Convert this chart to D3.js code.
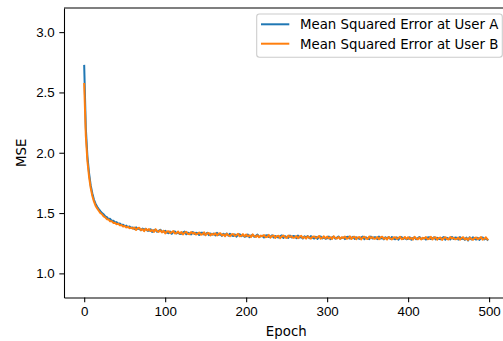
<!DOCTYPE html>
<html>
<head>
<meta charset="utf-8">
<script src="https://cdn.jsdelivr.net/npm/d3@7"></script>
<style>
    body { margin: 0; background: #fff; }
    svg { display: block; font-family: "DejaVu Sans", sans-serif; }
    .axis text { font-size: 13.33px; fill: #000; }
    .axis path, .axis line { stroke: #000; stroke-width: 1.07; }
</style>
</head>
<body>
<svg id="chart" width="503" height="341"></svg>
<script>
// values, one every 2 epochs (0, 2, ... 498)
var seriesNames = ["Mean Squared Error at User A", "Mean Squared Error at User B"];
var seriesColors = ["#1f77b4", "#ff7f0e"];
var xTicks = [0, 100, 200, 300, 400, 500];
var yTicks = [1.0, 1.5, 2.0, 2.5, 3.0];

var mseA = [
    2.720, 2.205, 1.968, 1.832, 1.731, 1.664, 1.612, 1.578, 1.552, 1.533,
    1.516, 1.500, 1.490, 1.472, 1.466, 1.450, 1.452, 1.436, 1.437, 1.422,
    1.425, 1.410, 1.414, 1.401, 1.403, 1.392, 1.396, 1.383, 1.389, 1.377,
    1.381, 1.367, 1.382, 1.367, 1.371, 1.358, 1.371, 1.362, 1.370, 1.354,
    1.353, 1.366, 1.344, 1.358, 1.361, 1.345, 1.353, 1.362, 1.344, 1.347,
    1.353, 1.339, 1.333, 1.347, 1.328, 1.343, 1.348, 1.331, 1.339, 1.327,
    1.328, 1.339, 1.346, 1.324, 1.338, 1.331, 1.323, 1.343, 1.327, 1.337,
    1.333, 1.318, 1.336, 1.337, 1.322, 1.326, 1.337, 1.317, 1.331, 1.321,
    1.331, 1.315, 1.336, 1.319, 1.324, 1.311, 1.329, 1.317, 1.330, 1.312,
    1.329, 1.315, 1.309, 1.323, 1.305, 1.320, 1.325, 1.308, 1.317, 1.304,
    1.308, 1.322, 1.300, 1.315, 1.318, 1.303, 1.311, 1.321, 1.303, 1.307,
    1.312, 1.297, 1.315, 1.316, 1.301, 1.305, 1.316, 1.297, 1.310, 1.301,
    1.297, 1.308, 1.315, 1.294, 1.308, 1.301, 1.294, 1.314, 1.298, 1.309,
    1.308, 1.292, 1.313, 1.297, 1.302, 1.289, 1.308, 1.297, 1.309, 1.292,
    1.309, 1.296, 1.289, 1.304, 1.286, 1.302, 1.306, 1.290, 1.299, 1.287,
    1.291, 1.305, 1.284, 1.299, 1.303, 1.288, 1.296, 1.306, 1.289, 1.293,
    1.298, 1.284, 1.302, 1.304, 1.289, 1.294, 1.304, 1.285, 1.299, 1.290,
    1.286, 1.298, 1.305, 1.284, 1.299, 1.291, 1.284, 1.305, 1.289, 1.300,
    1.299, 1.284, 1.305, 1.289, 1.295, 1.282, 1.300, 1.289, 1.302, 1.285,
    1.302, 1.289, 1.283, 1.298, 1.280, 1.296, 1.301, 1.285, 1.294, 1.282,
    1.286, 1.300, 1.279, 1.294, 1.298, 1.283, 1.292, 1.302, 1.285, 1.289,
    1.294, 1.280, 1.298, 1.300, 1.285, 1.290, 1.300, 1.281, 1.295, 1.286,
    1.282, 1.294, 1.301, 1.280, 1.295, 1.288, 1.281, 1.302, 1.286, 1.297,
    1.295, 1.280, 1.301, 1.285, 1.291, 1.278, 1.297, 1.272, 1.299, 1.282,
    1.299, 1.286, 1.280, 1.295, 1.277, 1.293, 1.298, 1.282, 1.291, 1.279
];

var mseB = [
    2.570, 2.140, 1.928, 1.801, 1.709, 1.643, 1.596, 1.561, 1.539, 1.519,
    1.500, 1.490, 1.472, 1.465, 1.449, 1.447, 1.432, 1.433, 1.418, 1.420,
    1.408, 1.412, 1.398, 1.401, 1.389, 1.393, 1.381, 1.386, 1.375, 1.379,
    1.370, 1.380, 1.360, 1.374, 1.378, 1.358, 1.366, 1.350, 1.370, 1.356,
    1.367, 1.351, 1.359, 1.344, 1.366, 1.351, 1.344, 1.357, 1.340, 1.353,
    1.332, 1.347, 1.350, 1.335, 1.341, 1.351, 1.330, 1.335, 1.347, 1.330,
    1.343, 1.323, 1.337, 1.344, 1.328, 1.324, 1.343, 1.330, 1.337, 1.322,
    1.328, 1.339, 1.321, 1.324, 1.340, 1.317, 1.332, 1.334, 1.315, 1.328,
    1.321, 1.332, 1.314, 1.328, 1.333, 1.315, 1.323, 1.308, 1.329, 1.316,
    1.308, 1.323, 1.326, 1.311, 1.318, 1.328, 1.307, 1.312, 1.325, 1.307,
    1.322, 1.307, 1.315, 1.301, 1.323, 1.309, 1.302, 1.316, 1.299, 1.313,
    1.307, 1.318, 1.300, 1.303, 1.319, 1.296, 1.311, 1.314, 1.294, 1.308,
    1.312, 1.292, 1.306, 1.314, 1.298, 1.294, 1.314, 1.301, 1.308, 1.294,
    1.298, 1.309, 1.291, 1.306, 1.311, 1.293, 1.302, 1.288, 1.308, 1.296,
    1.288, 1.304, 1.306, 1.292, 1.299, 1.310, 1.288, 1.294, 1.307, 1.290,
    1.305, 1.290, 1.299, 1.285, 1.308, 1.294, 1.288, 1.302, 1.286, 1.300,
    1.293, 1.305, 1.287, 1.291, 1.307, 1.285, 1.300, 1.303, 1.284, 1.298,
    1.301, 1.282, 1.296, 1.304, 1.289, 1.285, 1.305, 1.293, 1.300, 1.286,
    1.289, 1.301, 1.283, 1.298, 1.304, 1.286, 1.295, 1.281, 1.302, 1.290,
    1.281, 1.297, 1.300, 1.286, 1.293, 1.304, 1.283, 1.289, 1.302, 1.285,
    1.300, 1.285, 1.294, 1.280, 1.303, 1.289, 1.283, 1.297, 1.281, 1.295,
    1.289, 1.301, 1.283, 1.287, 1.303, 1.281, 1.296, 1.299, 1.280, 1.294,
    1.297, 1.278, 1.292, 1.300, 1.285, 1.281, 1.301, 1.289, 1.296, 1.282,
    1.285, 1.297, 1.279, 1.294, 1.300, 1.282, 1.291, 1.277, 1.298, 1.286,
    1.278, 1.294, 1.297, 1.283, 1.290, 1.301, 1.280, 1.286, 1.299, 1.282
];

var series = [mseA, mseB];

var svg = d3.select("#chart");

// axes box, right edge runs past the window like the picture
var plotLeft = 64, plotRight = 508.5, plotTop = 8, plotBottom = 297.5;

var x = d3.scaleLinear().domain([-24.95, 523.95]).range([plotLeft, plotRight]);
var y = d3.scaleLinear().domain([0.8, 3.2]).range([plotBottom, plotTop]);

var line = d3.line()
    .x(function(d, i) { return x(i * 2); })
    .y(function(d) { return y(d); });

svg.append("clipPath").attr("id", "plotclip")
    .append("rect")
    .attr("x", plotLeft).attr("y", plotTop)
    .attr("width", plotRight - plotLeft).attr("height", plotBottom - plotTop);

svg.append("g")
    .attr("clip-path", "url(#plotclip)")
    .selectAll("path")
    .data(series)
    .enter().append("path")
    .attr("d", line)
    .attr("fill", "none")
    .attr("stroke", function(d, i) { return seriesColors[i]; })
    .attr("stroke-width", 2)
    .attr("stroke-linejoin", "round")
    .attr("stroke-linecap", "square");

var xAxis = svg.append("g")
    .attr("class", "axis")
    .attr("transform", "translate(0," + plotBottom + ")")
    .call(d3.axisBottom(x).tickValues(xTicks).tickFormat(d3.format("d"))
        .tickSize(4.67).tickSizeOuter(0).tickPadding(4.67));

var yAxis = svg.append("g")
    .attr("class", "axis")
    .attr("transform", "translate(" + plotLeft + ",0)")
    .call(d3.axisLeft(y).tickValues(yTicks).tickFormat(d3.format(".1f"))
        .tickSize(4.67).tickSizeOuter(0).tickPadding(4.67));

// top and right spines
svg.append("line")
    .attr("x1", plotLeft).attr("x2", plotRight)
    .attr("y1", plotTop).attr("y2", plotTop)
    .attr("stroke", "#000").attr("stroke-width", 1.07);
svg.append("line")
    .attr("x1", plotRight).attr("x2", plotRight)
    .attr("y1", plotTop).attr("y2", plotBottom)
    .attr("stroke", "#000").attr("stroke-width", 1.07);

svg.append("text")
    .attr("x", (plotLeft + plotRight) / 2)
    .attr("y", 335.5)
    .attr("text-anchor", "middle")
    .attr("font-size", "13.33px")
    .text("Epoch");

svg.append("text")
    .attr("transform", "translate(26," + ((plotTop + plotBottom) / 2) + ") rotate(-90)")
    .attr("text-anchor", "middle")
    .attr("font-size", "13.33px")
    .text("MSE");

// legend
var legend = svg.append("g");
legend.append("rect")
    .attr("x", 256.7).attr("y", 14)
    .attr("width", 245.6).attr("height", 43.3)
    .attr("rx", 2.7).attr("ry", 2.7)
    .attr("fill", "#fff").attr("fill-opacity", 0.8)
    .attr("stroke", "#ccc").attr("stroke-width", 1.07);

var item = legend.selectAll(".item")
    .data(seriesNames)
    .enter().append("g")
    .attr("class", "item")
    .attr("transform", function(d, i) { return "translate(0," + (24.3 + i * 19.4) + ")"; });

item.append("line")
    .attr("x1", 261).attr("x2", 289.3)
    .attr("stroke", function(d, i) { return seriesColors[i]; })
    .attr("stroke-width", 2);

item.append("text")
    .attr("x", 300)
    .attr("y", 4.8)
    .attr("font-size", "13.33px")
    .text(function(d) { return d; });
</script>
</body>
</html>
